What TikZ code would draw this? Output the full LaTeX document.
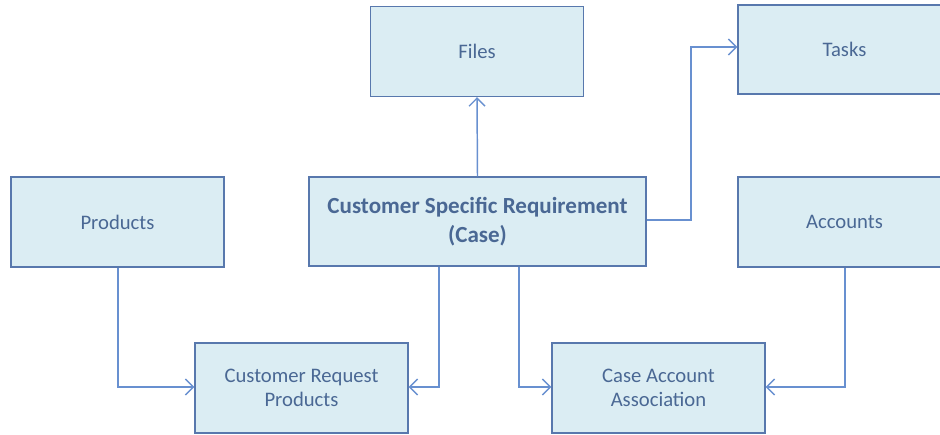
\documentclass[tikz,border=0pt]{standalone}
\usepackage{fontspec}
\setmainfont{Carlito}
\usetikzlibrary{arrows.meta}
\definecolor{boxfill}{HTML}{DBEDF3}
\definecolor{boxdraw}{HTML}{5878AD}
\definecolor{linecol}{HTML}{6890D0}
\definecolor{txtcol}{HTML}{4A6894}
\tikzset{
  ent/.style={draw=boxdraw, fill=boxfill, line width=1.1pt, minimum width=213*0.75pt, minimum height=90*0.75pt, inner sep=0pt, align=center, text=txtcol, font=\fontsize{15.5}{18}\selectfont},
  conn/.style={draw=linecol, line width=1.1pt, -{Straight Barb[length=6pt,width=12pt,line width=1pt]}}
}
\begin{document}
\begin{tikzpicture}[x=0.75pt,y=-0.75pt]
\clip (0,0) rectangle (940,435);
\fill[white] (0,0) rectangle (940,435);
\node[ent] (files) at (477,51.5) {Files};
\node[ent, minimum height=89*0.75pt] (tasks) at (844.5,49.5) {Tasks};
\node[ent] (products) at (117.5,222) {Products};
\node[ent, minimum width=337*0.75pt, minimum height=89*0.75pt, font=\fontsize{17.3}{22}\selectfont\bfseries] (csr) at (477.5,221.5) {Customer Specific Requirement\\(Case)};
\node[ent] (accounts) at (844.5,222) {Accounts};
\node[ent] (crp) at (301.5,388) {Customer Request\\Products};
\node[ent] (caa) at (658.5,388) {Case Account\\Association};
\coordinate (t1) at (691,220);
\coordinate (t2) at (691,47);
\coordinate (p1) at (118,387);
\coordinate (c1) at (439,387);
\coordinate (c2) at (519,387);
\coordinate (a1) at (845,387);
\draw[conn] (csr.north) -- (files.south);
\draw[conn] (csr.east |- t1) -- (t1) -- (t2) -- (tasks.west |- t2);
\draw[conn] (products.south -| p1) -- (p1) -- (crp.west |- p1);
\draw[conn] (csr.south -| c1) -- (c1) -- (crp.east |- c1);
\draw[conn] (csr.south -| c2) -- (c2) -- (caa.west |- c2);
\draw[conn] (accounts.south -| a1) -- (a1) -- (caa.east |- a1);
\end{tikzpicture}
\end{document}
